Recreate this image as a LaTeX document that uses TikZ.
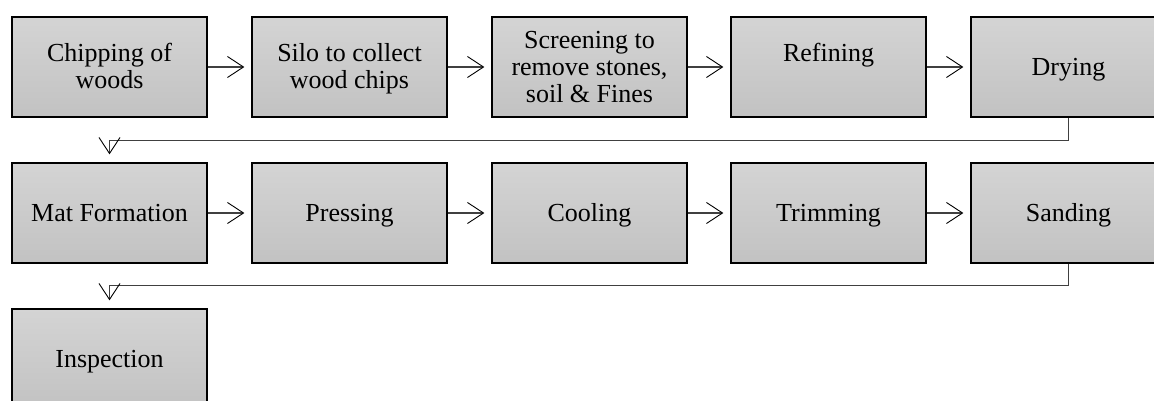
\documentclass[tikz,border=0pt]{standalone}
\usepackage{fontspec}
\setmainfont{Liberation Serif}
\usetikzlibrary{arrows.meta,calc}
\definecolor{boxtop}{HTML}{D4D4D4}
\definecolor{boxbot}{HTML}{C2C2C2}
\definecolor{linegray}{HTML}{404040}
\newcommand{\boxtext}[1]{\raisebox{-3pt}[\height][\depth]{\begin{tabular}{@{}c@{}}#1\end{tabular}}}
\begin{document}
\begin{tikzpicture}[x=1pt,y=-1pt,
  procbox/.style={draw=black, line width=1.4pt, top color=boxtop, bottom color=boxbot,
    minimum width=195pt, minimum height=100pt, align=center, inner sep=0pt,
    font=\fontsize{26}{27}\selectfont},
  flow/.style={draw=linegray, line width=1.5pt,
    -{Straight Barb[length=16pt,width=21pt,line width=0.9pt,color=black]}}]
\useasboundingbox (0,0) rectangle (1154,401);
\clip (0,0) rectangle (1154,401);
\fill[white] (0,0) rectangle (1154,401);
% row 1
\node[procbox] (n1) at (109.5,67) {\boxtext{Chipping of\\woods}};
\node[procbox] (n2) at (349.5,67) {\boxtext{Silo to collect\\wood chips}};
\node[procbox] (n3) at (589.5,67) {\boxtext{Screening to\\remove stones,\\soil \& Fines}};
\node[procbox] (n4) at (828.5,67) {\boxtext{Refining\\\strut}};
\node[procbox] (n5) at (1068.5,67) {\boxtext{Drying}};
% row 2
\node[procbox] (n6) at (109.5,213) {\boxtext{Mat Formation}};
\node[procbox] (n7) at (349.5,213) {\boxtext{Pressing}};
\node[procbox] (n8) at (589.5,213) {\boxtext{Cooling}};
\node[procbox] (n9) at (828.5,213) {\boxtext{Trimming}};
\node[procbox] (n10) at (1068.5,213) {\boxtext{Sanding}};
% row 3
\node[procbox] (n11) at (109.5,359) {\boxtext{Inspection}};
% connectors
\draw[flow] (n1.east) -- ([xshift=-7pt]n2.west);
\draw[flow] (n2.east) -- ([xshift=-7pt]n3.west);
\draw[flow] (n3.east) -- ([xshift=-7pt]n4.west);
\draw[flow] (n4.east) -- ([xshift=-7pt]n5.west);
\draw[flow] (n5.south) -- ++(0,23) -| ([yshift=8pt]n6.north);
\draw[flow] (n6.east) -- ([xshift=-7pt]n7.west);
\draw[flow] (n7.east) -- ([xshift=-7pt]n8.west);
\draw[flow] (n8.east) -- ([xshift=-7pt]n9.west);
\draw[flow] (n9.east) -- ([xshift=-7pt]n10.west);
\draw[flow] (n10.south) -- ++(0,22) -| ([yshift=8pt]n11.north);
\end{tikzpicture}
\end{document}
